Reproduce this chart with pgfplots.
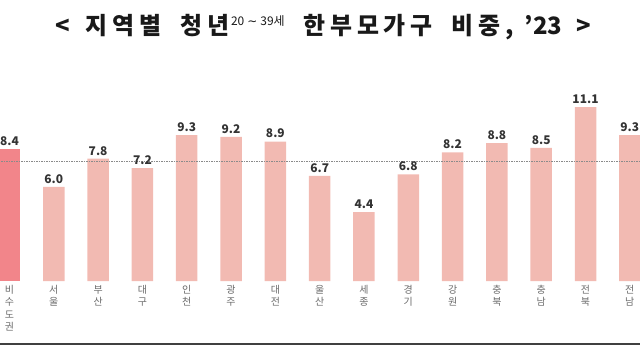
\documentclass[border=0pt]{standalone}
\usepackage{fontspec}
\setmainfont{Noto Sans CJK KR}
\newfontfamily\titlefont[LetterSpace=20]{Noto Sans CJK KR}
\newfontfamily\dejavu{DejaVu Sans}
\usepackage{pgfplots}
\pgfplotsset{compat=1.18}
\definecolor{barc}{HTML}{F2BAB2}
\definecolor{barh}{HTML}{F2858A}
\definecolor{valc}{HTML}{333333}
\definecolor{labc}{HTML}{6A6A6A}
\definecolor{avgc}{HTML}{8A8A8A}
\begin{document}
\begin{tikzpicture}[x=1bp,y=1bp]
\useasboundingbox (0,0) rectangle (640,360);
\clip (0,0) rectangle (640,360);
\begin{axis}[
  at={(0bp,79bp)}, anchor=south west,
  scale only axis, width=640bp, height=221bp,
  xmin=-0.2144, xmax=14.23, ymin=0, ymax=14.1,
  axis line style={draw=none},
  major tick length=0pt,
  ytick=\empty,
  xtick={0,...,14},
  xticklabels={{비\\수\\도\\권},{서\\울},{부\\산},{대\\구},{인\\천},{광\\주},{대\\전},{울\\산},{세\\종},{경\\기},{강\\원},{충\\북},{충\\남},{전\\북},{전\\남}},
  xticklabel style={font=\fontsize{10}{12.5}\selectfont, text=labc, align=center, anchor=north, inner sep=0pt, yshift=-4bp},
  /pgf/number format/assume math mode=true,
  nodes near coords style={font=\bfseries\fontsize{12}{12}\selectfont, text=valc, /pgf/number format/.cd, fixed, fixed zerofill, precision=1},
  clip=false,
]
\addplot[ybar, bar width=21.5bp, bar shift=0pt, fill=barh, draw=none, nodes near coords] coordinates {(0,8.4)};
\addplot[ybar, bar width=21.5bp, bar shift=0pt, fill=barc, draw=none, nodes near coords] coordinates {
(1,6.0) (2,7.8) (3,7.2) (4,9.3) (5,9.2) (6,8.9) (7,6.7) (8,4.4) (9,6.8) (10,8.2) (11,8.8) (12,8.5) (13,11.1) (14,9.3)};
\addplot[draw=avgc, line width=0.9bp, dash pattern=on 1.5bp off 1bp] coordinates {(-0.3,7.6) (14.4,7.6)};
\end{axis}
\draw[line width=2.8bp, color=black!75] (0,16) -- (640,16);
\node[font=\bfseries\fontsize{24}{26}\selectfont, text=black!90, inner sep=0pt] at (323,333) {<\hspace{16bp}{\titlefont 지역별}\hspace{19bp}{\titlefont 청년}\hspace{2bp}\raisebox{9bp}{\fontsize{12}{12}\selectfont\mdseries 20\hspace{3bp}{\dejavu ∼}\hspace{3bp}39세}\hspace{19bp}{\titlefont 한부모가구}\hspace{19bp}{\titlefont 비중,}\hspace{11bp}'23\hspace{14bp}>};
\end{tikzpicture}
\end{document}
